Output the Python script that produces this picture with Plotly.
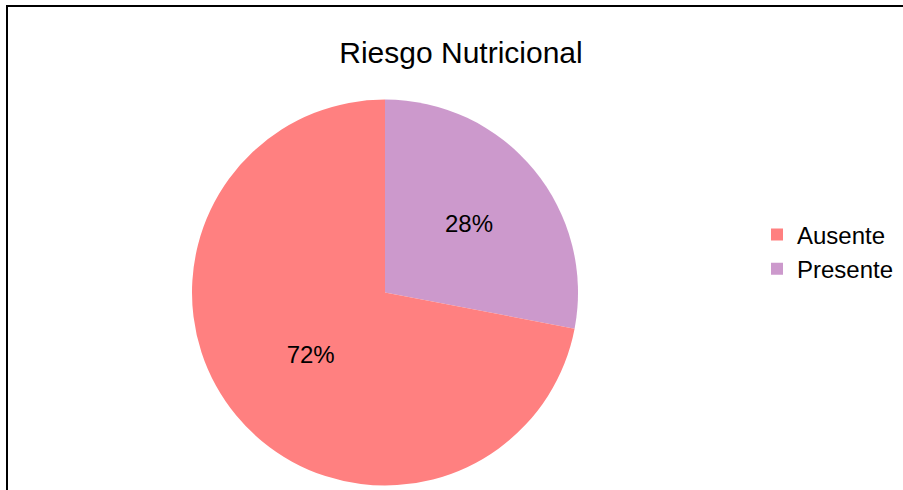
import plotly.graph_objects as go

labels = ["Presente", "Ausente"]
values = [28, 72]
colors = ["#CC99CC", "#FF8080"]
title_text = "Riesgo Nutricional"

W, H = 903, 490

fig = go.Figure(go.Pie(
    labels=labels,
    values=values,
    marker=dict(colors=colors, line=dict(width=0)),
    sort=False,
    direction="clockwise",
    rotation=0,
    textinfo="percent",
    texttemplate="%{percent:.0%}",
    textposition="inside",
    insidetextorientation="horizontal",
    textfont=dict(size=24, color="black", family="Liberation Sans, Arial, sans-serif"),
    domain=dict(x=[192 / W, 578 / W], y=[1 - 486 / H, 1 - 99 / H]),
    showlegend=True,
    hoverinfo="label+percent",
))

fig.update_layout(
    width=W, height=H,
    margin=dict(l=0, r=0, t=0, b=0),
    paper_bgcolor="white",
    plot_bgcolor="white",
    font=dict(family="Liberation Sans, Arial, sans-serif", color="black"),
    title=dict(text=title_text, x=461 / W, xanchor="center", y=1 - 52 / H, yanchor="middle",
               font=dict(size=30, color="black")),
    legend=dict(x=757 / W, xanchor="left", y=1 - 252 / H, yanchor="middle",
                traceorder="reversed",
                font=dict(size=24, color="black"), itemwidth=30, tracegroupgap=0,
                bgcolor="rgba(0,0,0,0)"),
    shapes=[dict(type="rect", xref="paper", yref="paper",
                 x0=7 / W, x1=1.05, y0=-0.05, y1=1 - 6 / H,
                 line=dict(color="black", width=2), fillcolor="rgba(0,0,0,0)")],
)

fig.write_html("out.html")
